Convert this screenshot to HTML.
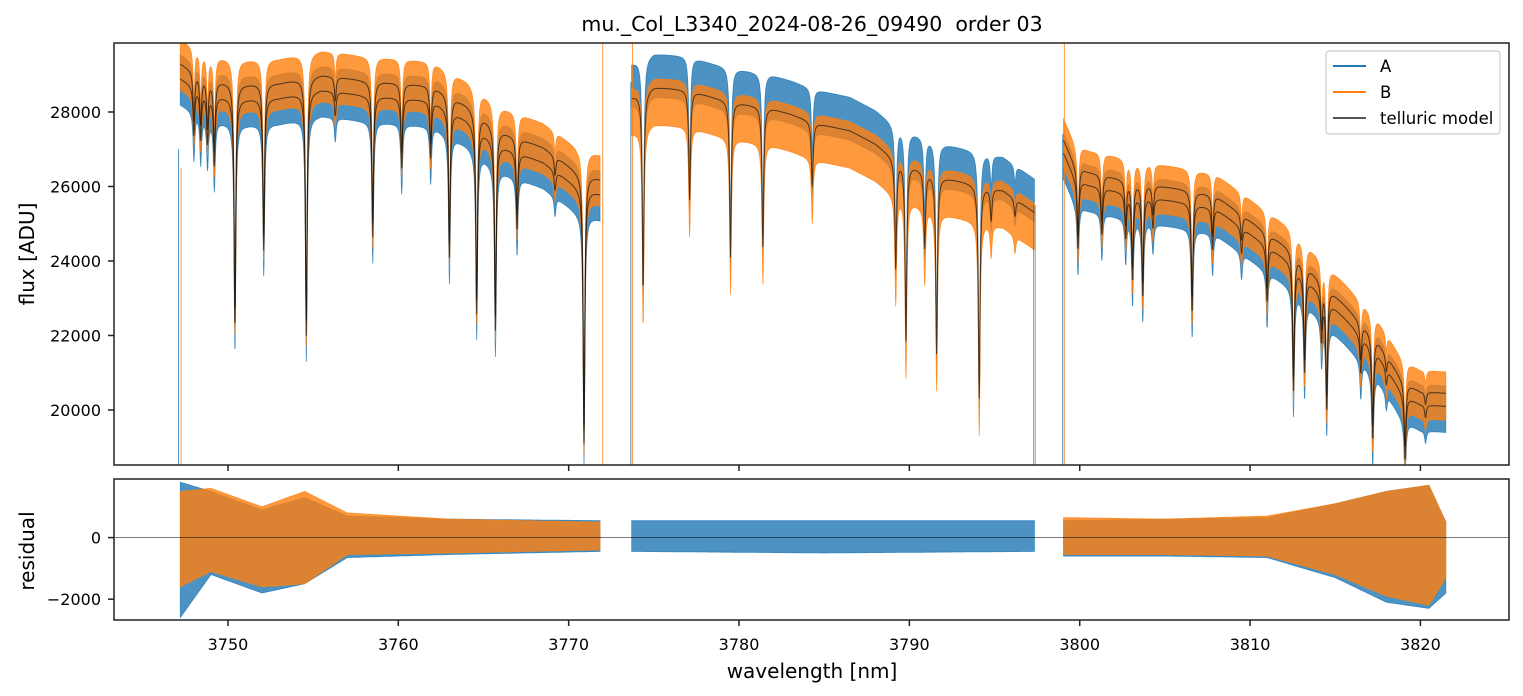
<!DOCTYPE html>
<html><head><meta charset="utf-8">
<style>
html,body{margin:0;padding:0;background:#fff;}
svg{display:block;font-family:"DejaVu Sans","Liberation Sans",sans-serif;}
</style></head>
<body>
<svg id="chart" width="1523" height="696" viewBox="0 0 1523 696" xmlns="http://www.w3.org/2000/svg">
<rect x="0" y="0" width="1523" height="696" fill="#fff"/>
<text x="812" y="31" font-size="20.5" text-anchor="middle" fill="#000">mu._Col_L3340_2024-08-26_09490&#160; order 03</text>
<g id="top-marks"></g>
<g id="bot-marks"></g>
<g id="axes"></g>
<text transform="translate(34,254) rotate(-90)" font-size="20" text-anchor="middle">flux [ADU]</text>
<text transform="translate(34,551) rotate(-90)" font-size="20" text-anchor="middle">residual</text>
<text x="812" y="678" font-size="20" text-anchor="middle">wavelength [nm]</text>
<g>
<rect x="1326" y="51" width="174" height="83" rx="3" fill="#fff" fill-opacity="0.85" stroke="#ccc" stroke-width="1.2"/>
<g><line x1="1333" y1="66" x2="1366" y2="66" stroke="#1f77b4" stroke-width="2"/><text x="1380" y="72" font-size="16.5">A</text></g>
<g><line x1="1333" y1="92" x2="1366" y2="92" stroke="#ff7f0e" stroke-width="2"/><text x="1380" y="98" font-size="16.5">B</text></g>
<g><line x1="1333" y1="118" x2="1366" y2="118" stroke="#555" stroke-width="2"/><text x="1380" y="124" font-size="16.5">telluric model</text></g>
</g>
</svg>
<script>
// ---- data ----
const xTicks = [3750, 3760, 3770, 3780, 3790, 3800, 3810, 3820];
const yTicksFlux = [20000, 22000, 24000, 26000, 28000];
const yTicksRes = [-2000, 0];
const segStart = [3747.2, 3773.7, 3799.05];
const segEnd = [3771.85, 3797.35, 3821.5];
// continuum knots per segment [wavelength, flux]
const cont1 = [[3747.2,28900],[3749.0,28450],[3751.0,28350],[3753.0,28380],[3755.5,28600],[3758.0,28450],[3760.0,28380],[3762.0,28300],[3764.0,27800],[3766.0,27100],[3768.5,26650],[3770.5,26000],[3771.85,25800]];
const cont2 = [[3773.7,28400],[3775.0,28670],[3777.0,28600],[3778.5,28400],[3780.0,28250],[3781.9,28100],[3783.0,27950],[3784.5,27700],[3786.5,27500],[3788.0,27150],[3789.0,26800],[3790.5,26500],[3792.0,26250],[3793.5,26100],[3795.5,25900],[3797.35,25300]];
const cont3 = [[3799.05,26900],[3799.7,26250],[3800.5,26050],[3803.0,25800],[3805.0,25650],[3806.5,25550],[3808.0,25400],[3809.8,24800],[3811.0,24400],[3812.3,24000],[3813.8,23300],[3815.5,22500],[3817.5,21500],[3819.0,20400],[3820.0,20150],[3821.5,20100]];
// absorption lines: [center nm, bottom flux]
const lines1 = [[3748.0,27400],[3748.4,27300],[3748.8,27200],[3749.2,26600],[3750.41,22200],[3752.1,24300],[3754.6,22000],[3756.3,27900],[3758.5,24640],[3760.2,26500],[3761.9,26770],[3763.0,24100],[3764.6,22600],[3765.7,22150],[3766.97,24830],[3769.2,25900],[3770.9,19100]];
const lines2 = [[3774.37,23220],[3777.1,25640],[3779.5,24100],[3781.4,24380],[3784.3,26000],[3789.2,23830],[3789.8,21880],[3790.9,24380],[3791.6,21530],[3794.1,20320],[3794.8,25100],[3796.2,25200]];
const lines3 = [[3799.9,24300],[3801.3,24700],[3802.7,24640],[3803.1,23500],[3803.7,23040],[3804.3,24900],[3806.6,22600],[3807.8,24300],[3809.5,24200],[3811.0,22900],[3812.55,20540],[3813.2,20990],[3814.2,21900],[3814.5,20000],[3816.5,21000],[3817.2,19200],[3818.0,20700],[3819.1,18650],[3820.3,19800]];
// second (B) model offset per segment
const modelOffset = [400, 0, 350];
// band half-widths around model per segment (ADU)
const aUp = [650, 900, 550];
const aLo = [700, 250, 700];
const bUp = [850, 250, 750];
const bLo = [500, 1000, 550];
// residual envelope knots: [wavelength, aUp, aLo, bUp, bLo]
const resA1 = [[3747.2,1800,-2600,1500,-1600],[3749.0,1500,-1200,1600,-1100],[3752.0,900,-1800,1000,-1600],[3754.5,1300,-1500,1500,-1500],[3757.0,700,-650,800,-550],[3763.0,600,-550,600,-500],[3771.85,550,-450,500,-400]];
const resA2 = [[3773.7,550,-450,0,0],[3785.0,550,-500,0,0],[3797.35,550,-450,0,0]];
const resA3 = [[3799.05,550,-600,650,-550],[3805.0,600,-600,600,-550],[3811.0,650,-650,700,-600],[3815.0,1100,-1300,1100,-1200],[3818.0,1500,-2100,1500,-1900],[3820.5,1700,-2300,1700,-2200],[3821.5,500,-1800,500,-1300]];
// spikes [wavelength, series(0=A,1=B), flux from, flux to]
const spikes = [[3747.1,0,27000,18523],[3747.25,1,26500,18523],[3772.0,1,29852,18523],[3773.65,0,28800,18523],[3773.75,1,29852,18523],[3797.3,0,25500,18523],[3797.4,1,25500,18523],[3799.0,0,27400,18523],[3799.1,1,29852,18523]];

// ---- axes functions ----
const X0=114, X1=1509, T0=43, T1=465, R0=479, R1=620;
const xMin=3743.31, xMax=3825.2;
const fMin=18523, fMax=29852, rMin=-2677, rMax=1903;
const xs = v => X0 + (v-xMin)/(xMax-xMin)*(X1-X0);
const yf = v => T1 - (v-fMin)/(fMax-fMin)*(T1-T0);
const yr = v => R1 - (v-rMin)/(rMax-rMin)*(R1-R0);
const NS='http://www.w3.org/2000/svg';
function mk(tag, parent, attrs){const e=document.createElementNS(NS,tag);for(const k in attrs)e.setAttribute(k,attrs[k]);parent.appendChild(e);return e;}
function interp(knots, l, idx){
  if(l<=knots[0][0]) return knots[0][idx];
  for(let i=1;i<knots.length;i++){if(l<=knots[i][0]){const a=knots[i-1],b=knots[i];const t=(l-a[0])/(b[0]-a[0]);return a[idx]+(b[idx]-a[idx])*t;}}
  return knots[knots.length-1][idx];
}
const conts=[cont1,cont2,cont3], lineSets=[lines1,lines2,lines3], resSets=[resA1,resA2,resA3];
function model(s,l){
  const c=interp(conts[s],l,1);let f=c;
  for(const ln of lineSets[s]){const d=interp(conts[s],ln[0],1)-ln[1];const u=(l-ln[0])/0.06;f-=d/(1+u*u);}
  return f;
}
function clampF(v){return Math.max(fMin,Math.min(fMax,v));}
function clampR(v){return Math.max(rMin,Math.min(rMax,v));}

const gTop=document.getElementById('top-marks'), gBot=document.getElementById('bot-marks'), gAx=document.getElementById('axes');
const step=0.02;
const colors=['#1f77b4','#ff7f0e'];
const ups=[aUp,bUp], los=[aLo,bLo];
for(let ser=0;ser<2;ser++){
  for(let s=0;s<3;s++){
    let upPts=[],loPts=[];
    const off = ser===1?modelOffset[s]*0.5:0;
    for(let l=segStart[s];l<=segEnd[s]+1e-9;l+=step){
      const m=model(s,l)+off;
      upPts.push(xs(l).toFixed(1)+','+yf(clampF(m+ups[ser][s])).toFixed(1));
      loPts.push(xs(l).toFixed(1)+','+yf(clampF(m-los[ser][s])).toFixed(1));
    }
    const p=mk('polygon',gTop,{points:upPts.concat(loPts.reverse()).join(' '),fill:colors[ser],'fill-opacity':0.8,stroke:colors[ser],'stroke-width':0.8,'stroke-opacity':0.8});
    
    
  }
}
for(const sp of spikes){
  const l=mk('line',gTop,{x1:xs(sp[0]),x2:xs(sp[0]),y1:yf(sp[2]),y2:yf(sp[3]),stroke:colors[sp[1]],'stroke-width':1,'stroke-opacity':0.8});
  
  
}
for(let s=0;s<3;s++){
  for(let k=0;k<2;k++){
    if(k===1 && modelOffset[s]===0) continue;
    let pts=[];
    for(let l=segStart[s];l<=segEnd[s]+1e-9;l+=step){pts.push(xs(l).toFixed(1)+','+yf(clampF(model(s,l)+(k?modelOffset[s]:0))).toFixed(1));}
    const pl=mk('polyline',gTop,{points:pts.join(' '),fill:'none',stroke:'#111','stroke-width':1,'stroke-opacity':0.7});
    
    
  }
}
// residual bands
for(let ser=0;ser<2;ser++){
  for(let s=0;s<3;s++){
    const kn=resSets[s];
    const iu=ser===0?1:3, il=ser===0?2:4;
    if(kn[0][iu]===0 && kn[0][il]===0) continue;
    let upPts=[],loPts=[];
    for(let l=segStart[s];l<=segEnd[s]+1e-9;l+=step){
      upPts.push(xs(l).toFixed(1)+','+yr(clampR(interp(kn,l,iu))).toFixed(1));
      loPts.push(xs(l).toFixed(1)+','+yr(clampR(interp(kn,l,il))).toFixed(1));
    }
    const p=mk('polygon',gBot,{points:upPts.concat(loPts.reverse()).join(' '),fill:colors[ser],'fill-opacity':0.8,stroke:colors[ser],'stroke-width':0.8,'stroke-opacity':0.8});
    
    
  }
}
const zl=mk('line',gBot,{x1:X0,x2:X1,y1:yr(0),y2:yr(0),stroke:'#000','stroke-width':0.8,'stroke-opacity':0.6});



// frames and ticks
const f1=mk('rect',gAx,{x:X0,y:T0,width:X1-X0,height:T1-T0,fill:'none',stroke:'#222','stroke-width':1.5});


const f2=mk('rect',gAx,{x:X0,y:R0,width:X1-X0,height:R1-R0,fill:'none',stroke:'#222','stroke-width':1.5});


for(const t of xTicks){
  const x=xs(t);
  mk('line',gAx,{x1:x,x2:x,y1:T1,y2:T1+6,stroke:'#222','stroke-width':1.5});
  mk('line',gAx,{x1:x,x2:x,y1:R1,y2:R1+6,stroke:'#222','stroke-width':1.5});
  const tx=mk('text',gAx,{x:x,y:R1+30,'font-size':16,'text-anchor':'middle'});
  tx.textContent=t;
  
  
}
for(const t of yTicksFlux){
  const y=yf(t);
  mk('line',gAx,{x1:X0-6,x2:X0,y1:y,y2:y,stroke:'#222','stroke-width':1.5});
  const tx=mk('text',gAx,{x:X0-13,y:y+6,'font-size':16,'text-anchor':'end'});
  tx.textContent=t;
  
  
}
for(const t of yTicksRes){
  const y=yr(t);
  mk('line',gAx,{x1:X0-6,x2:X0,y1:y,y2:y,stroke:'#222','stroke-width':1.5});
  const tx=mk('text',gAx,{x:X0-13,y:y+6,'font-size':16,'text-anchor':'end'});
  tx.textContent=(t<0?'\u2212'+(-t):t);
  
  
}
</script>
</body></html>
